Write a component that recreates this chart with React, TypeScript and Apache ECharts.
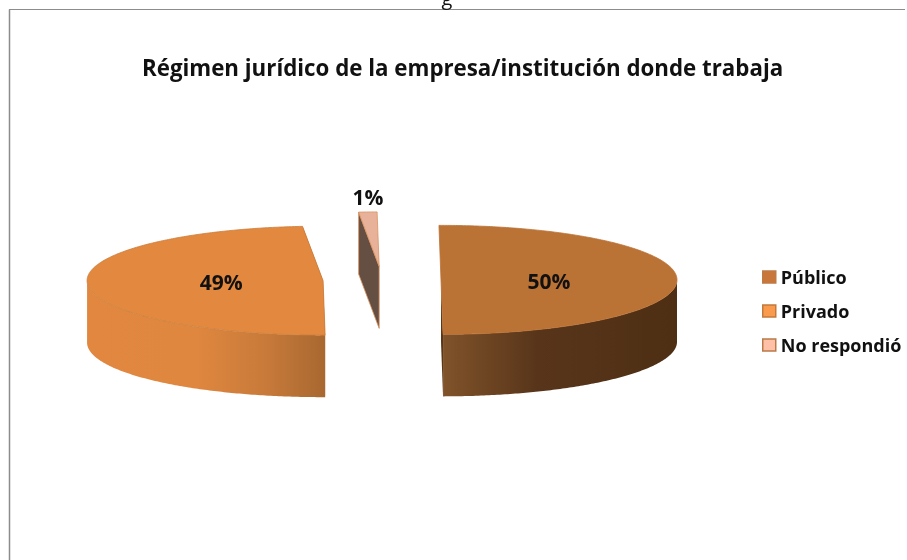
import React, { useEffect, useRef } from "react";
import * as echarts from "echarts";

const titleText = "Régimen jurídico de la empresa/institución donde trabaja";
const categories = ["Público", "Privado", "No respondió"];
// they round to the printed 50%, 49%, 1%
const values = [50, 48.75, 1.25];
const topColors = ["#BB7235", "#E2883F", "#E8B29A"];
const legendColors = ["#C8763A", "#F99A4C", "#FFC0A8"];
const legendBorders = ["#BE7A45", "#C27A3C", "#B97A48"];
const cutColors = ["#5A3719", "#A86830", "#654F42"];
const edgeColors = ["#BB7235", "#CC7D3B", "#D9935F"];
const rimStops: [number, string][][] = [
  [[0, "#80532A"], [0.4, "#58351A"], [1, "#4E2F14"]],
  [[0, "#E1873F"], [0.45, "#E0873F"], [0.75, "#C87A3A"], [1, "#A86830"]],
  [[0, "#654F42"], [1, "#654F42"]],
];

const FONT = "'Open Sans', Lato, sans-serif";
const CX = 382;
const CY = 280;
const RX = 236;
const RY = 54.5;
const DEPTH = 62;
const EXPLODE = 59;
const START_DEG = -0.5;
const total = values.reduce((a, b) => a + b, 0);

function startOf(index: number) {
  let acc = 0;
  for (let i = 0; i < index; i++) acc += values[i];
  return START_DEG + (acc / total) * 360;
}

function renderSlice(index: number) {
  return (_params: any, api: any) => {
    const v = api.value(0) as number;
    const a0 = startOf(index);
    const a1 = a0 + (v / total) * 360;
    const mid = ((a0 + a1) / 2) * (Math.PI / 180);
    const cx = CX + EXPLODE * Math.sin(mid);
    const cy = CY - (EXPLODE * RY / RX) * Math.cos(mid);
    const pt = (deg: number, dy = 0): number[] => {
      const r = (deg * Math.PI) / 180;
      return [cx + RX * Math.sin(r), cy - RY * Math.cos(r) + dy];
    };
    const arc = (from: number, to: number, dy = 0) => {
      const out: number[][] = [];
      const n = Math.max(2, Math.ceil(Math.abs(to - from) * 1.5));
      for (let i = 0; i <= n; i++) out.push(pt(from + ((to - from) * i) / n, dy));
      return out;
    };
    const children: any[] = [];
    const cutVisible = (deg: number) => {
      const r = (deg * Math.PI) / 180;
      return Math.abs(Math.sin(r)) > 0.02 || Math.cos(r) < 0;
    };
    const cut = (deg: number) => ({
      type: "polygon",
      shape: { points: [[cx, cy], pt(deg), pt(deg, DEPTH), [cx, cy + DEPTH]] },
      style: { fill: cutColors[index], stroke: edgeColors[index], lineWidth: index === 2 ? 0.8 : 0 },
    });
    [a0, a1].filter(cutVisible).forEach((deg) => children.push(cut(deg)));
    const f0 = Math.max(a0, 90);
    const f1 = Math.min(a1, 270);
    if (f1 > f0) {
      children.push({
        type: "polygon",
        shape: { points: [...arc(f0, f1), ...arc(f1, f0, DEPTH)] },
        style: {
          fill: new echarts.graphic.LinearGradient(
            0, 0, 1, 0,
            rimStops[index].map(([offset, color]) => ({ offset, color }))
          ),
        },
      });
    }
    children.push({
      type: "polygon",
      shape: { points: [[cx, cy], ...arc(a0, a1)] },
      style: { fill: topColors[index], stroke: edgeColors[index], lineWidth: 0.8 },
    });
    const outside = v < 5;
    const lx = outside ? pt((a0 + a1) / 2)[0] : cx + RX * 0.445 * Math.sin(mid) + 3;
    const ly = outside ? cy - RY - 15 : cy + 1.5;
    children.push({
      type: "text",
      z2: 10,
      style: {
        text: `${Math.round(v)}%`,
        x: lx,
        y: ly,
        align: "center",
        verticalAlign: "middle",
        fill: "#111111",
        font: `700 21px ${FONT}`,
      },
    });
    return { type: "group", children };
  };
}

export default function App() {
  const ref = useRef<HTMLDivElement>(null);
  useEffect(() => {
    const chart = echarts.init(ref.current!, null, { renderer: "svg" });
    chart.setOption({
      animation: false,
      backgroundColor: "#ffffff",
      title: {
        text: titleText,
        left: 142,
        top: 56,
        padding: 0,
        textStyle: { fontFamily: FONT, fontWeight: 700, fontSize: 22.3, color: "#111111" },
      },
      legend: {
        orient: "vertical",
        left: 762,
        top: 268,
        padding: 0,
        itemWidth: 13,
        itemHeight: 12,
        itemGap: 16,
        textStyle: { fontFamily: FONT, fontWeight: 700, fontSize: 18, color: "#111111" },
        data: categories.map((name, i) => ({
          name,
          icon: "rect",
          itemStyle: { color: legendColors[i], borderColor: legendBorders[i], borderWidth: 1.5 },
        })),
      },
      series: categories.map((name, i) => ({
        type: "custom",
        name,
        coordinateSystem: "none",
        silent: true,
        itemStyle: { color: legendColors[i] },
        data: [[values[i]]],
        renderItem: renderSlice(i),
      })),
      graphic: [
        { type: "line", shape: { x1: 9.5, y1: 9.5, x2: 9.5, y2: 560 }, style: { stroke: "#8C8C8C", lineWidth: 1.5 } },
        { type: "line", shape: { x1: 9, y1: 9.5, x2: 905, y2: 9.5 }, style: { stroke: "#8C8C8C", lineWidth: 1.2 } },
        {
          type: "text",
          x: 447,
          y: -13,
          style: { text: "g", fill: "#111111", font: `20px ${FONT}`, align: "center" },
        },
      ],
    });
    return () => chart.dispose();
  }, []);
  return (
    <div
      ref={ref}
      style={{ position: "absolute", left: 0, top: 0, width: 907, height: 560, filter: "blur(0.35px)" }}
    />
  );
}
